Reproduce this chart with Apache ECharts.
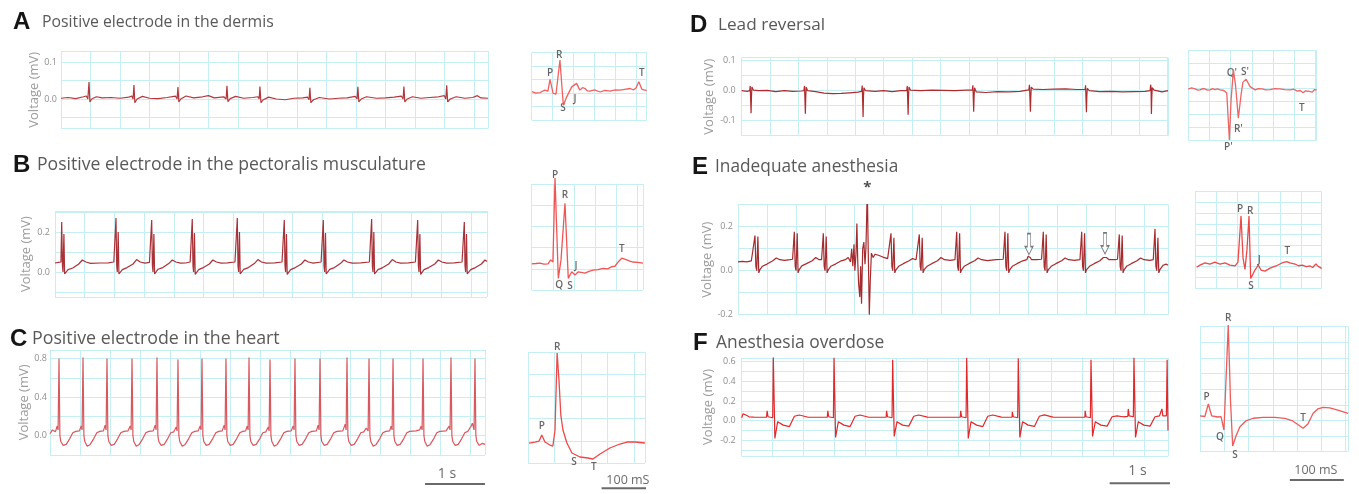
<!DOCTYPE html>
<html><head><meta charset="utf-8">
<script src="https://cdn.jsdelivr.net/npm/echarts@6/dist/echarts.min.js"></script>
<style>html,body{margin:0;padding:0;background:#fff}#c{width:1359px;height:494px}</style>
</head><body><div id="c"></div>
<script>
// ---------------- DATA ----------------
const panelLetters = ['A','B','C','D','E','F'];
const panelTitles = ['Positive electrode in the dermis','Positive electrode in the pectoralis musculature','Positive electrode in the heart','Lead reversal','Inadequate anesthesia','Anesthesia overdose'];
const yAxisName = 'Voltage (mV)';
const yTicksA = [0, 0.1];
const yTicksB = [0, 0.2];
const yTicksC = [0, 0.4, 0.8];
const yTicksD = [-0.1, 0, 0.1];
const yTicksE = [-0.2, 0, 0.2];
const yTicksF = [-0.2, 0, 0.2, 0.4, 0.6];

// long traces: [time ms, voltage mV]
const traceA = [[0,0.002],[120,0.004],[250,0.001],[380,0.006],[430,0.008],[455,0.0],[475,0.046],[490,-0.008],[520,0.0],[600,0.006],[700,0.003],[850,0.004],[1000,0.002],[1150,0.005],[1200,0.008],[1222,0.0],[1237,0.038],[1252,-0.01],[1290,0.0],[1380,0.007],[1500,0.002],[1650,0.001],[1800,0.004],[1940,0.008],[1968,0.0],[1983,0.032],[1998,-0.008],[2030,0.0],[2120,0.008],[2250,0.003],[2400,0.006],[2500,0.009],[2600,0.003],[2760,0.006],[2800,0.0],[2814,0.036],[2830,-0.007],[2870,0.001],[2960,0.007],[3100,0.002],[3250,0.004],[3340,0.006],[3360,0.0],[3373,0.034],[3390,-0.01],[3430,-0.002],[3520,0.005],[3650,0.0],[3800,-0.002],[3950,0.002],[4100,0.003],[4180,0.005],[4206,-0.002],[4220,0.03],[4236,-0.01],[4280,-0.002],[4380,0.004],[4550,0.0],[4700,0.002],[4850,0.003],[4990,0.007],[5020,0.0],[5034,0.033],[5050,-0.008],[5090,0.0],[5180,0.006],[5350,0.002],[5500,0.003],[5650,0.005],[5770,0.008],[5800,0.0],[5814,0.034],[5830,-0.008],[5870,0.0],[5960,0.006],[6100,0.002],[6250,0.004],[6400,0.006],[6500,0.009],[6525,0.0],[6540,0.037],[6556,-0.008],[6600,0.0],[6700,0.006],[6850,0.002],[6980,0.004],[7060,0.009],[7120,0.003],[7240,0.002]];

const traceB = [[0,0.045],[60,0.048],[100,0.05],
[113,0.25],[125,0.03],[135,0.0],[150,0.19],[162,-0.01],[180,-0.005],[220,0.012],[300,0.02],[400,0.04],[460,0.06],[520,0.05],[600,0.043],[750,0.045],[900,0.046],[990,0.05],
[1027,0.27],[1039,0.03],[1049,0.0],[1064,0.2],[1076,-0.01],[1094,-0.005],[1134,0.012],[1214,0.022],[1314,0.04],[1374,0.062],[1434,0.05],[1514,0.044],[1590,0.048],
[1628,0.26],[1640,0.03],[1650,0.0],[1665,0.19],[1677,-0.01],[1695,-0.004],[1735,0.014],[1815,0.022],[1915,0.042],[1975,0.06],[2035,0.05],[2115,0.044],[2200,0.045],[2275,0.05],
[2311,0.265],[2323,0.03],[2333,0.0],[2348,0.195],[2360,-0.012],[2378,-0.005],[2418,0.012],[2498,0.022],[2598,0.04],[2658,0.06],[2718,0.05],[2798,0.044],[2900,0.046],[3030,0.05],
[3069,0.27],[3081,0.03],[3091,0.0],[3106,0.2],[3118,-0.01],[3136,-0.004],[3176,0.013],[3256,0.022],[3356,0.042],[3416,0.062],[3476,0.05],[3556,0.044],[3700,0.046],[3822,0.05],
[3860,0.26],[3872,0.03],[3882,0.0],[3897,0.19],[3909,-0.012],[3927,-0.005],[3967,0.012],[4047,0.022],[4147,0.04],[4207,0.06],[4267,0.05],[4347,0.044],[4480,0.05],
[4517,0.26],[4529,0.03],[4539,0.0],[4554,0.195],[4566,-0.01],[4584,-0.004],[4624,0.013],[4704,0.022],[4804,0.042],[4864,0.06],[4924,0.05],[5004,0.044],[5150,0.046],[5293,0.05],
[5331,0.265],[5343,0.03],[5353,0.0],[5368,0.2],[5380,-0.01],[5398,-0.005],[5438,0.012],[5518,0.022],[5618,0.04],[5678,0.062],[5738,0.05],[5818,0.044],[5950,0.046],[6068,0.05],
[6106,0.26],[6118,0.03],[6128,0.0],[6143,0.19],[6155,-0.012],[6173,-0.005],[6213,0.012],[6293,0.022],[6393,0.04],[6453,0.06],[6513,0.05],[6593,0.044],[6720,0.046],[6853,0.05],
[6891,0.25],[6903,0.03],[6913,0.0],[6928,0.19],[6940,-0.01],[6958,-0.005],[6998,0.012],[7078,0.022],[7178,0.04],[7238,0.06],[7273,0.052]];

const traceC = [[0,0.02],[40,0.06],[90,0.04],[120,0.1],[135,0.06],[150,0.8],[165,0.0],[180,-0.06],[220,-0.1],[270,-0.09],[330,-0.03],[380,0.03],[430,0.045],[490,0.05],[520,0.1],[535,0.06],
[550,0.81],[565,0.0],[580,-0.06],[620,-0.11],[670,-0.09],[730,-0.03],[780,0.03],[830,0.045],[890,0.05],[920,0.11],[935,0.06],
[950,0.8],[965,0.0],[980,-0.06],[1020,-0.1],[1070,-0.09],[1130,-0.03],[1180,0.03],[1230,0.045],[1300,0.05],[1337,0.1],[1352,0.06],
[1367,0.8],[1382,0.0],[1397,-0.06],[1437,-0.11],[1487,-0.09],[1547,-0.03],[1597,0.03],[1647,0.045],[1720,0.05],[1753,0.11],[1768,0.06],
[1783,0.81],[1798,0.0],[1813,-0.06],[1853,-0.1],[1903,-0.09],[1963,-0.03],[2013,0.03],[2063,0.04],[2103,0.09],[2118,0.05],
[2133,0.79],[2148,0.0],[2163,-0.06],[2203,-0.11],[2253,-0.09],[2313,-0.03],[2363,0.03],[2413,0.045],[2470,0.05],[2503,0.1],[2518,0.06],
[2533,0.8],[2548,0.0],[2563,-0.06],[2603,-0.1],[2653,-0.09],[2713,-0.03],[2763,0.03],[2813,0.045],[2870,0.05],[2903,0.11],[2918,0.06],
[2933,0.8],[2948,0.0],[2963,-0.06],[3003,-0.1],[3053,-0.09],[3113,-0.03],[3163,0.03],[3213,0.045],[3260,0.05],[3287,0.1],[3302,0.06],
[3317,0.81],[3332,0.0],[3347,-0.06],[3387,-0.1],[3437,-0.09],[3497,-0.03],[3547,0.03],[3597,0.04],[3637,0.09],[3652,0.05],
[3667,0.79],[3682,0.0],[3697,-0.06],[3737,-0.11],[3787,-0.09],[3847,-0.03],[3897,0.03],[3947,0.045],[4020,0.05],[4053,0.1],[4068,0.06],
[4083,0.8],[4098,0.0],[4113,-0.06],[4153,-0.1],[4203,-0.09],[4263,-0.03],[4313,0.03],[4363,0.045],[4440,0.05],[4470,0.11],[4485,0.06],
[4500,0.8],[4515,0.0],[4530,-0.06],[4570,-0.1],[4620,-0.09],[4680,-0.03],[4730,0.03],[4780,0.045],[4880,0.05],[4920,0.12],[4935,0.06],
[4950,0.81],[4965,0.0],[4980,-0.06],[5020,-0.1],[5070,-0.09],[5130,-0.03],[5180,0.03],[5230,0.04],[5270,0.08],[5287,0.1],[5302,0.05],
[5317,0.8],[5332,0.0],[5347,-0.06],[5387,-0.11],[5437,-0.09],[5497,-0.03],[5547,0.03],[5597,0.045],[5660,0.05],[5687,0.1],[5702,0.06],
[5717,0.8],[5732,0.0],[5747,-0.06],[5787,-0.1],[5837,-0.09],[5897,-0.03],[5947,0.03],[5997,0.045],[6100,0.05],[6160,0.06],[6187,0.1],[6202,0.06],
[6217,0.8],[6232,0.0],[6247,-0.06],[6287,-0.11],[6337,-0.09],[6397,-0.03],[6447,0.03],[6497,0.045],[6600,0.05],[6653,0.1],[6668,0.06],
[6683,0.81],[6698,0.0],[6713,-0.06],[6753,-0.1],[6803,-0.09],[6863,-0.03],[6913,0.03],[6963,0.045],[7020,0.1],[7040,0.13],[7068,0.06],
[7083,0.8],[7098,0.0],[7113,-0.06],[7153,-0.1],[7203,-0.08],[7250,-0.09]];

const traceD = [[0,0.0],[100,-0.002],[140,0.0],[150,0.016],[158,0.012],[165,-0.075],[172,-0.02],[180,0.012],[205,0.002],[300,0.0],[450,0.001],[600,-0.003],[750,0.0],[900,-0.002],[1050,-0.001],[1095,0.0],[1106,0.016],[1114,0.012],[1121,-0.077],[1128,-0.02],[1136,0.012],[1160,0.0],[1300,-0.003],[1450,-0.008],[1600,-0.01],[1750,-0.009],[1900,-0.007],[2050,-0.005],[2110,-0.002],[2122,0.017],[2130,0.012],[2137,-0.088],[2144,-0.02],[2152,0.01],[2180,0.0],[2350,-0.002],[2500,0.0],[2650,-0.003],[2800,0.0],[2905,0.0],[2915,0.016],[2923,0.012],[2930,-0.08],[2937,-0.02],[2945,0.012],[2970,0.002],[3150,0.0],[3350,0.002],[3550,0.001],[3750,0.0],[3950,0.002],[4060,0.002],[4070,0.018],[4077,0.012],[4084,-0.07],[4091,-0.02],[4099,0.01],[4130,-0.004],[4300,-0.006],[4500,-0.003],[4700,-0.004],[4900,-0.002],[5055,0.003],[5066,0.02],[5076,0.015],[5083,-0.07],[5090,-0.02],[5098,0.012],[5130,0.005],[5300,0.004],[5500,0.005],[5700,0.006],[5900,0.004],[6045,0.004],[6054,0.018],[6062,0.012],[6069,-0.072],[6076,-0.02],[6084,0.008],[6120,0.0],[6300,-0.003],[6500,-0.002],[6700,-0.004],[6900,-0.003],[7100,-0.002],[7190,0.0],[7199,0.02],[7206,0.012],[7213,-0.078],[7220,-0.02],[7228,0.01],[7260,0.002],[7400,-0.004],[7505,0.0]];

const traceE = [[0,0.04],[80,0.042],[150,0.04],[230,0.045],[263,0.05],
[293,0.16],[308,0.02],[323,0.0],[343,0.155],[358,-0.01],[378,0.005],[420,0.02],[500,0.03],[600,0.045],[660,0.058],[720,0.05],[800,0.047],[900,0.05],[941,0.052],
[971,0.177],[986,0.02],[1001,0.0],[1021,0.17],[1036,-0.01],[1056,0.005],[1100,0.022],[1180,0.032],[1280,0.045],[1340,0.06],[1400,0.05],[1441,0.05],
[1471,0.17],[1486,0.02],[1501,0.0],[1521,0.155],[1536,-0.01],[1556,0.004],[1600,0.02],[1680,0.03],[1780,0.045],[1850,0.05],
[1900,0.06],[1940,0.04],[1960,0.1],[1980,0.02],[2000,0.12],[2015,0.0],[2035,0.08],[2050,0.215],[2065,0.04],[2080,-0.06],[2100,-0.12],[2115,0.02],[2130,-0.15],[2150,0.1],[2170,0.13],[2190,0.03],[2205,0.1],[2215,0.2],[2229,0.39],[2245,0.1],[2264,-0.2],[2280,-0.05],[2300,0.08],[2330,0.06],[2362,0.075],[2420,0.07],[2500,0.062],[2580,0.055],[2608,0.05],
[2638,0.17],[2653,0.02],[2668,0.0],[2688,0.15],[2703,-0.01],[2723,0.004],[2770,0.02],[2850,0.032],[2950,0.045],[3010,0.055],[3070,0.05],[3096,0.05],
[3126,0.165],[3141,0.02],[3156,0.0],[3176,0.15],[3191,-0.01],[3211,0.005],[3260,0.02],[3340,0.032],[3440,0.045],[3500,0.06],[3560,0.05],[3660,0.047],[3741,0.05],
[3771,0.177],[3786,0.02],[3801,0.0],[3821,0.17],[3836,-0.01],[3856,0.004],[3900,0.02],[3980,0.032],[4080,0.045],[4140,0.058],[4200,0.05],[4300,0.046],[4450,0.05],[4573,0.052],
[4603,0.177],[4618,0.02],[4633,0.0],[4653,0.17],[4668,-0.01],[4688,0.005],[4730,0.02],[4810,0.032],[4910,0.045],[4980,0.05],[5000,0.065],[5017,0.07],[5040,0.06],[5060,0.05],[5150,0.05],[5234,0.052],
[5264,0.177],[5279,0.02],[5294,0.0],[5314,0.165],[5329,-0.01],[5349,0.004],[5400,0.02],[5480,0.032],[5580,0.045],[5640,0.058],[5700,0.05],[5800,0.047],[5896,0.05],
[5926,0.177],[5941,0.02],[5956,0.0],[5976,0.17],[5991,-0.01],[6011,0.005],[6060,0.02],[6140,0.032],[6240,0.045],[6300,0.06],[6328,0.068],[6350,0.06],[6400,0.05],[6500,0.05],[6544,0.052],
[6574,0.165],[6589,0.02],[6604,0.0],[6624,0.16],[6639,-0.01],[6659,0.005],[6700,0.02],[6780,0.032],[6880,0.045],[6940,0.058],[7000,0.05],[7100,0.047],[7160,0.05],
[7190,0.19],[7205,0.02],[7220,0.0],[7240,0.15],[7255,-0.01],[7275,0.005],[7330,0.025],[7380,0.03],[7414,0.025]];
const arrowsE = [[5017,0.121],[6328,0.124]];
const asteriskE = ['*', 2229, 0.39];

const traceF = [[0,0.03],[20,0.07],[60,0.06],[120,0.04],[200,0.036],[300,0.035],[400,0.035],[410,0.1],[425,0.04],[500,0.03],[510,0.645],[535,-0.18],[580,-0.01],[670,-0.045],[770,-0.06],[850,0.045],[930,0.058],[1070,0.035],[1200,0.035],[1380,0.035],[1389,0.1],[1404,0.04],[1479,0.03],[1489,0.64],[1514,-0.17],[1559,-0.01],[1649,-0.045],[1749,-0.06],[1829,0.045],[1909,0.058],[2049,0.035],[2200,0.035],[2330,0.037],[2337,0.1],[2352,0.04],[2425,0.03],[2435,0.62],[2460,-0.16],[2505,-0.01],[2595,-0.045],[2695,-0.055],[2775,0.045],[2855,0.058],[2995,0.037],[3200,0.035],[3400,0.035],[3525,0.036],[3532,0.1],[3547,0.04],[3619,0.03],[3629,0.64],[3654,-0.18],[3699,-0.01],[3789,-0.045],[3889,-0.06],[3969,0.045],[4049,0.058],[4189,0.036],[4300,0.035],[4360,0.035],[4365,0.09],[4380,0.04],[4451,0.03],[4461,0.635],[4486,-0.17],[4531,-0.01],[4621,-0.045],[4721,-0.058],[4801,0.045],[4881,0.06],[5021,0.036],[5200,0.035],[5400,0.035],[5535,0.036],[5540,0.1],[5555,0.04],[5624,0.03],[5634,0.62],[5659,-0.16],[5704,-0.01],[5794,-0.045],[5894,-0.055],[5974,0.04],[6054,0.05],[6150,0.04],[6228,0.045],[6235,0.12],[6250,0.05],[6317,0.04],[6327,0.64],[6352,-0.17],[6397,-0.01],[6487,-0.045],[6587,-0.055],[6667,0.04],[6740,0.05],[6770,0.055],[6778,0.12],[6793,0.05],[6850,0.05],[6862,0.62],[6876,-0.1]];

const scaleBarC = [[6250,-0.501],[7250,-0.501]];
const scaleTextC = ['1 s', 6617, -0.395];
const scaleBarF = [[5935,-0.637],[6935,-0.637]];
const scaleTextF = ['1 s', 6384, -0.515];

// single-beat insets: [time ms, voltage]
const insetA = [[0.6,0.005],[8,0.0],[16,0.002],[25,0.011],[31,0.007],[35,0.051],[41,-0.001],[46.5,-0.004],[54,0.123],[60.5,-0.045],[67,-0.014],[76.5,0.023],[86,0.036],[92,0.011],[97,0.02],[102,0.017],[107,0.008],[111.5,0.007],[120,0.012],[131,0.004],[140,0.01],[150,0.007],[160,0.012],[169,0.011],[178,0.014],[188,0.017],[195,0.012],[199.5,0.019],[205,0.042],[210.5,0.015],[215,0.012],[220,0.009]];
const insetALabels = [['P',35,0.074],['R',52.4,0.141],['S',60,-0.056],['J',83,-0.022],['T',210.5,0.074]];

const insetB = [[0,0.023],[8,0.025],[15.7,0.027],[23,0.022],[30.8,0.023],[35.8,0.042],[40,0.032],[44,0.428],[50.2,-0.045],[55.3,0.042],[62.8,0.309],[69,-0.045],[72.3,-0.029],[75.5,-0.014],[81.7,-0.029],[88,-0.014],[100.6,-0.02],[108,-0.012],[115.7,-0.006],[125,-0.004],[134.5,0.002],[143,0.0],[151.5,0.01],[157,0.012],[163,0.032],[170,0.05],[179.4,0.042],[185,0.036],[191.3,0.032],[200,0.03],[210,0.027]];
const insetBLabels = [['P',44,0.442],['R',62.8,0.348],['Q',52,-0.076],['S',72.3,-0.084],['J',83.6,0.013],['T',170,0.093]];

const insetC = [[2,-0.02],[13,-0.011],[21,-0.002],[26,0.052],[32,-0.011],[41.5,-0.038],[47,-0.047],[51,0.097],[55,0.791],[58.5,0.548],[62,0.232],[66,0.097],[73.5,-0.02],[83,-0.11],[98,-0.146],[113,-0.155],[122.6,-0.164],[136,-0.119],[154.7,-0.065],[173.6,-0.029],[186.8,-0.011],[202,-0.011],[220.8,-0.02]];
const insetCLabels = [['R',55,0.845],['P',26,0.133],['S',87,-0.191],['T',124.5,-0.236]];
const scaleBarIC = [[139,-0.428],[239,-0.428]];
const scaleTextIC = ['100 mS', 188.7, -0.355];

const insetD = [[0,-0.002],[6,0.002],[12.6,-0.001],[18,-0.005],[22,-0.004],[27,0.0],[31.5,-0.001],[36,-0.005],[41,-0.004],[46,0.0],[50,-0.003],[55,-0.001],[60,-0.004],[67,-0.006],[72.5,-0.014],[77.4,-0.16],[80.6,-0.036],[85,0.058],[89,0.011],[94.3,-0.092],[99.4,-0.02],[103,0.02],[109,0.029],[116.4,0.006],[126,-0.004],[132,0.0],[139,-0.001],[146,-0.004],[154,-0.003],[163,0.0],[173,-0.001],[182,-0.003],[192,-0.004],[199,-0.002],[205,-0.008],[211,-0.006],[216.4,-0.013],[221,-0.007],[226,-0.008],[233.5,-0.011],[238,-0.003],[242,-0.004]];
const insetDLabels = [["Q'",82,0.049],["S'",107,0.052],["R'",94.3,-0.127],["P'",75.5,-0.181],['T',214,-0.061]];

const insetE = [[3,-0.003],[9.4,0.007],[19,0.017],[28,0.012],[37.7,0.021],[47,0.012],[56.6,0.017],[66,0.007],[75.5,0.003],[81,0.021],[86.8,0.236],[90.6,0.04],[94.3,-0.013],[98,0.078],[101.9,0.236],[105,-0.055],[109.4,-0.035],[113,-0.016],[119.4,0.007],[124.5,-0.016],[132,-0.021],[141.5,-0.007],[152.8,0.003],[164,0.017],[173,0.023],[179,0.017],[188.7,0.012],[195,0.004],[202,0.007],[210,0.0],[217,0.003],[222,-0.004],[228,0.012],[233,0.0],[239,-0.008]];
const insetELabels = [['P',85,0.269],['R',104,0.257],['S',105.7,-0.09],['J',121,0.031],['T',174,0.073]];

const insetF = [[0,0.043],[9,0.038],[15.4,0.158],[21.7,0.043],[33,0.033],[39,0.036],[44.4,-0.092],[52.4,0.916],[56.5,0.196],[60.6,-0.245],[66.7,-0.149],[74,-0.06],[85,-0.005],[98.7,0.021],[116.7,0.03],[139,0.03],[157.4,0.019],[172,-0.005],[191.3,-0.075],[200,-0.034],[209.8,0.069],[218.5,0.11],[228.3,0.126],[240.7,0.12],[255.6,0.1],[274.6,0.069]];
const insetFLabels = [['R',52.4,0.983],['P',12.4,0.225],['Q',37,-0.156],['S',64.8,-0.332],['T',191.3,0.026]];
const scaleBarIF = [[166.7,-0.572],[266.7,-0.572]];
const scaleTextIF = ['100 mS', 214.8, -0.48];

// ---------------- LAYOUT / STYLE ----------------
const GRID_COLOR = '#c6eff3';
const FONT = "'Open Sans','Noto Sans',sans-serif";
const MAIN = {
  A:{left:61,top:50.9,width:427,height:77.7,xMax:7240,yMin:-0.08,yMax:0.13,split:2,minor:2,nameGap:17,margin:4,color:'#b3383d'},
  B:{left:55,top:211,width:432,height:86,xMax:7273,yMin:-0.125,yMax:0.305,split:2,minor:2,nameGap:22,margin:5,color:'#a93238'},
  C:{left:50,top:349.8,width:435,height:105.2,xMax:7250,yMin:-0.2,yMax:0.89,interval:0.2,nameGap:16,margin:3,color:'#d9575d'},
  D:{left:741.7,top:57.7,width:426.3,height:78,xMax:7505,yMin:-0.15,yMax:0.11,interval:0.05,nameGap:24,margin:6,color:'#b02b2e'},
  E:{left:738,top:204.7,width:430,height:110,xMax:7414,yMin:-0.2,yMax:0.3,interval:0.1,nameGap:23,margin:5,color:'#a62b2e'},
  F:{left:741.7,top:357.8,width:426.3,height:98.3,xMax:6876,yMin:-0.36,yMax:0.64,split:5,minor:2,nameGap:27,margin:6,color:'#e3282b'}
};
const INSET = {
  A:{left:531.7,top:52.7,width:115,height:67.3,xMax:220,xInt:40,yMin:-0.1,yMax:0.15,yInt:0.05,color:'#f06060'},
  B:{left:531.7,top:184,width:111.3,height:106,xMax:210,xInt:40,yMin:-0.1,yMax:0.4,yInt:0.1,color:'#f05555'},
  C:{left:528,top:352,width:117,height:111,xMax:221,xInt:50,yMin:-0.2,yMax:0.8,yInt:0.2,color:'#ee4848'},
  D:{left:1188.3,top:50,width:128.4,height:90,xMax:242,xInt:40,yMin:-0.16,yMax:0.12,yInt:0.04,color:'#f06464'},
  E:{left:1195,top:191.7,width:126.7,height:96.3,xMax:239,xInt:40,yMin:-0.1,yMax:0.35,yInt:0.05,color:'#f04848'},
  F:{left:1200,top:326.7,width:148.3,height:125,xMax:275,xInt:45,yMin:-0.3,yMax:0.9,yInt:0.15,color:'#f05a5a'}
};
const TITLE_POS = [
  {lx:13,tx:42,y:22,fs:15.8},{lx:13,tx:37,y:165,fs:17.6},{lx:10,tx:32,y:339,fs:17.8},
  {lx:690,tx:718,y:25,fs:17.2},{lx:692,tx:715,y:167,fs:17.3},{lx:693,tx:716,y:343,fs:17.4}
];

// ---------------- BUILD ----------------
const grids = [], xAxis = [], yAxis = [], series = [], graphic = [];
function split(show){ return {show:show, lineStyle:{color:GRID_COLOR, width:1}}; }
function addGrid(box, xa, ya){
  const i = grids.length;
  grids.push({left:box.left, top:box.top, width:box.width, height:box.height, containLabel:false});
  xa.gridIndex = i; ya.gridIndex = i; xAxis.push(xa); yAxis.push(ya); return i;
}
function mainPanel(key, data, ticks){
  const p = MAIN[key];
  const ya = {type:'value', min:p.yMin, max:p.yMax, name:yAxisName, nameLocation:'middle', nameRotate:90, nameGap:p.nameGap,
    nameTextStyle:{fontSize:13, color:'#9c9c9c', fontFamily:FONT},
    axisLine:{show:false}, axisTick:{show:false},
    axisLabel:{margin:p.margin, fontSize:9, color:'#8e8e8e', fontFamily:FONT,
      formatter:function(v){ return ticks.some(function(t){return Math.abs(t-v)<1e-6;}) ? v.toFixed(1) : ''; }},
    splitLine:split(true)};
  if (p.interval) ya.interval = p.interval; else ya.splitNumber = p.split;
  if (p.minor){ ya.minorTick = {show:false, splitNumber:p.minor}; ya.minorSplitLine = split(true); }
  const xa = {type:'value', min:0, max:p.xMax, interval:500, axisLine:{show:false}, axisTick:{show:false}, axisLabel:{show:false}, splitLine:split(true)};
  const gi = addGrid(p, xa, ya);
  series.push({type:'line', xAxisIndex:gi, yAxisIndex:gi, data:data, symbol:'none', showSymbol:false,
    lineStyle:{color:p.color, width:1.2}, silent:true, animation:false});
  return gi;
}
function insetPanel(key, data){
  const p = INSET[key];
  const hide = {axisLine:{show:false}, axisTick:{show:false}, axisLabel:{show:false}};
  const xa = Object.assign({type:'value', min:0, max:p.xMax, interval:p.xInt, splitLine:split(true)}, JSON.parse(JSON.stringify(hide)));
  const ya = Object.assign({type:'value', min:p.yMin, max:p.yMax, interval:p.yInt, splitLine:split(true)}, JSON.parse(JSON.stringify(hide)));
  const gi = addGrid(p, xa, ya);
  series.push({type:'line', xAxisIndex:gi, yAxisIndex:gi, data:data, symbol:'none', showSymbol:false, clip:false,
    lineStyle:{color:p.color, width:1.3}, silent:true, animation:false});
  return gi;
}
function textSeries(gi, items, style){
  series.push({type:'scatter', xAxisIndex:gi, yAxisIndex:gi, clip:false, symbolSize:1, itemStyle:{color:'rgba(0,0,0,0)'},
    label:Object.assign({show:true, position:'inside', formatter:'{b}', fontFamily:FONT}, style),
    data:items.map(function(a){ return {name:a[0], value:[a[1], a[2]]}; }), silent:true, animation:false});
}
function barSeries(gi, data){
  series.push({type:'line', xAxisIndex:gi, yAxisIndex:gi, data:data, clip:false, symbol:'none', showSymbol:false,
    lineStyle:{color:'#6a6a6a', width:2}, silent:true, animation:false});
}
const peakLabel = {fontSize:10, fontWeight:600, color:'#3f3f3f'};

const gA = mainPanel('A', traceA, yTicksA);
const gB = mainPanel('B', traceB, yTicksB);
const gC = mainPanel('C', traceC, yTicksC);
const gD = mainPanel('D', traceD, yTicksD);
const gE = mainPanel('E', traceE, yTicksE);
const gF = mainPanel('F', traceF, yTicksF);

barSeries(gC, scaleBarC); textSeries(gC, [scaleTextC], {fontSize:14, color:'#444'});
barSeries(gF, scaleBarF); textSeries(gF, [scaleTextF], {fontSize:14, color:'#444'});
textSeries(gE, [asteriskE], {fontSize:15, fontWeight:'bold', color:'#222', offset:[0,3]});
series.push({type:'scatter', xAxisIndex:gE, yAxisIndex:gE, data:arrowsE, clip:false,
  symbol:'path://M3,0 L7,0 L7,13 L10,13 L5,21 L0,13 L3,13 Z', symbolSize:[8,21],
  itemStyle:{color:'#ffffff', borderColor:'#555555', borderWidth:1}, silent:true, animation:false});

const iA = insetPanel('A', insetA); textSeries(iA, insetALabels, peakLabel);
const iB = insetPanel('B', insetB); textSeries(iB, insetBLabels, peakLabel);
const iC = insetPanel('C', insetC); textSeries(iC, insetCLabels, peakLabel);
barSeries(iC, scaleBarIC); textSeries(iC, [scaleTextIC], {fontSize:12.5, color:'#444'});
const iD = insetPanel('D', insetD); textSeries(iD, insetDLabels, peakLabel);
const iE = insetPanel('E', insetE); textSeries(iE, insetELabels, peakLabel);
const iF = insetPanel('F', insetF); textSeries(iF, insetFLabels, peakLabel);
barSeries(iF, scaleBarIF); textSeries(iF, [scaleTextIF], {fontSize:12.5, color:'#444'});

panelLetters.forEach(function(letter, i){
  const t = TITLE_POS[i];
  graphic.push({type:'text', x:t.lx, y:t.y, silent:true, style:{text:letter, fontSize:24, fontWeight:'bold', fontFamily:"'Liberation Sans',Arial,sans-serif", fill:'#151515', verticalAlign:'middle', align:'left'}});
  graphic.push({type:'text', x:t.tx, y:t.y, silent:true, style:{text:panelTitles[i], fontSize:t.fs, fontFamily:FONT, fill:'#595959', verticalAlign:'middle', align:'left'}});
});

const chart = echarts.init(document.getElementById('c'));
chart.setOption({animation:false, backgroundColor:'#ffffff', textStyle:{fontFamily:FONT},
  grid:grids, xAxis:xAxis, yAxis:yAxis, series:series, graphic:graphic});
</script></body></html>
